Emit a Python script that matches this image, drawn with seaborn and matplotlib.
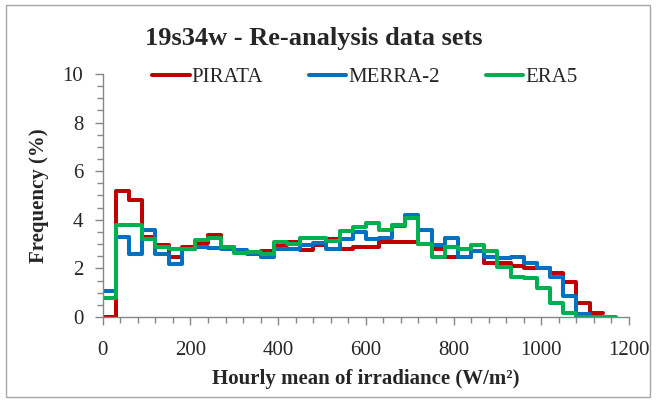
import numpy as np
import pandas as pd
import matplotlib
matplotlib.use("Agg")
import matplotlib.pyplot as plt
from matplotlib.ticker import MultipleLocator
from matplotlib.patches import Rectangle
import seaborn as sns

# data: frequency (%) per 30 W/m2 bin
bin_width = 30
pirata = [0, 5.2, 4.81, 3.3, 2.96, 2.48, 2.87, 3.06, 3.37, 2.87, 2.66, 2.69, 2.72,
          2.96, 3.1, 2.76, 2.96, 3.2, 2.8, 2.87, 2.87, 3.1, 3.1, 3.1, 2.99, 2.79,
          2.48, 2.48, 2.72, 2.21, 2.21, 2.1, 2.0, 2.0, 1.8, 1.45, 0.56, 0.15]
merra2 = [1.08, 3.28, 2.58, 3.57, 2.58, 2.2, 2.79, 2.87, 2.85, 2.8, 2.76, 2.58, 2.48,
          2.8, 2.8, 2.96, 3.03, 2.8, 3.2, 3.51, 3.2, 3.26, 3.75, 4.2, 3.58, 2.96,
          3.24, 2.48, 2.72, 2.48, 2.41, 2.48, 2.21, 2.0, 1.66, 0.88, 0.11]
era5 = [0.8, 3.79, 3.79, 3.22, 2.89, 2.79, 2.79, 3.17, 3.26, 2.89, 2.62, 2.69, 2.58,
        3.1, 2.99, 3.24, 3.24, 3.14, 3.54, 3.69, 3.88, 3.58, 3.79, 4.09, 2.99, 2.48,
        2.89, 2.79, 2.96, 2.72, 2.07, 1.66, 1.62, 1.18, 0.56, 0.18, 0.01, 0.01, 0.01]
names = ["PIRATA", "MERRA-2", "ERA5"]
colors = {"PIRATA": "#C00000", "MERRA-2": "#0070C0", "ERA5": "#00B050"}

# long table, last value repeated at the right edge so the step closes
rows = []
for name, vals in zip(names, [pirata, merra2, era5]):
    edges = np.arange(len(vals) + 1) * bin_width
    ys = list(vals) + [vals[-1]]
    for e, v in zip(edges, ys):
        rows.append({"edge": e, "freq": v, "source": name})
df = pd.DataFrame(rows)

sns.set_style("white")
plt.rcParams["font.family"] = ["Liberation Serif", "DejaVu Serif"]

fig = plt.figure(figsize=(6.56, 4.01), dpi=100)
ax = fig.add_axes([0.1566, 0.2095, 0.8022, 0.606])

sns.lineplot(data=df, x="edge", y="freq", hue="source", hue_order=names,
             palette=colors, drawstyle="steps-post", estimator=None, sort=False,
             linewidth=2.9, ax=ax, legend=False)

ax.set_xlim(0, 1200)
ax.set_ylim(0, 10)
ax.xaxis.set_major_locator(MultipleLocator(200))
ax.xaxis.set_minor_locator(MultipleLocator(40))
ax.yaxis.set_major_locator(MultipleLocator(2))
ax.yaxis.set_minor_locator(MultipleLocator(0.5))
ax.tick_params(which="both", direction="out", color="#868686", labelsize=15,
               left=True, bottom=True)
ax.tick_params(which="major", length=6, width=1)
ax.tick_params(which="minor", length=4, width=1)
ax.tick_params(axis="y", pad=8)
ax.tick_params(axis="x", pad=11)

for s in ["top", "right"]:
    ax.spines[s].set_visible(False)
for s in ["left", "bottom"]:
    ax.spines[s].set_color("#868686")
    ax.spines[s].set_linewidth(1)

ax.set_xlabel("Hourly mean of irradiance (W/m²)", fontsize=15, fontweight="bold",
              labelpad=7)
ax.set_ylabel("Frequency (%)", fontsize=15, fontweight="bold", labelpad=10)

fig.text(0.479, 0.905, "19s34w - Re-analysis data sets", fontsize=19,
         fontweight="bold", ha="center", va="center")

handles = [plt.Line2D([], [], color=colors[n], lw=2.9) for n in names]
fig.legend(handles, names, loc="center left", bbox_to_anchor=(152 / 656, 1 - 77 / 401),
           ncol=3, frameon=False, fontsize=15, handlelength=1.8, handletextpad=0.1,
           columnspacing=2.2, borderpad=0, borderaxespad=0)

# chart area border
fig.patches.append(Rectangle((6 / 656, 4 / 401), 644 / 656, 392 / 401,
                             transform=fig.transFigure, fill=False,
                             edgecolor="#A6A6A6", lw=1))

fig.savefig("out.png", dpi=100)
